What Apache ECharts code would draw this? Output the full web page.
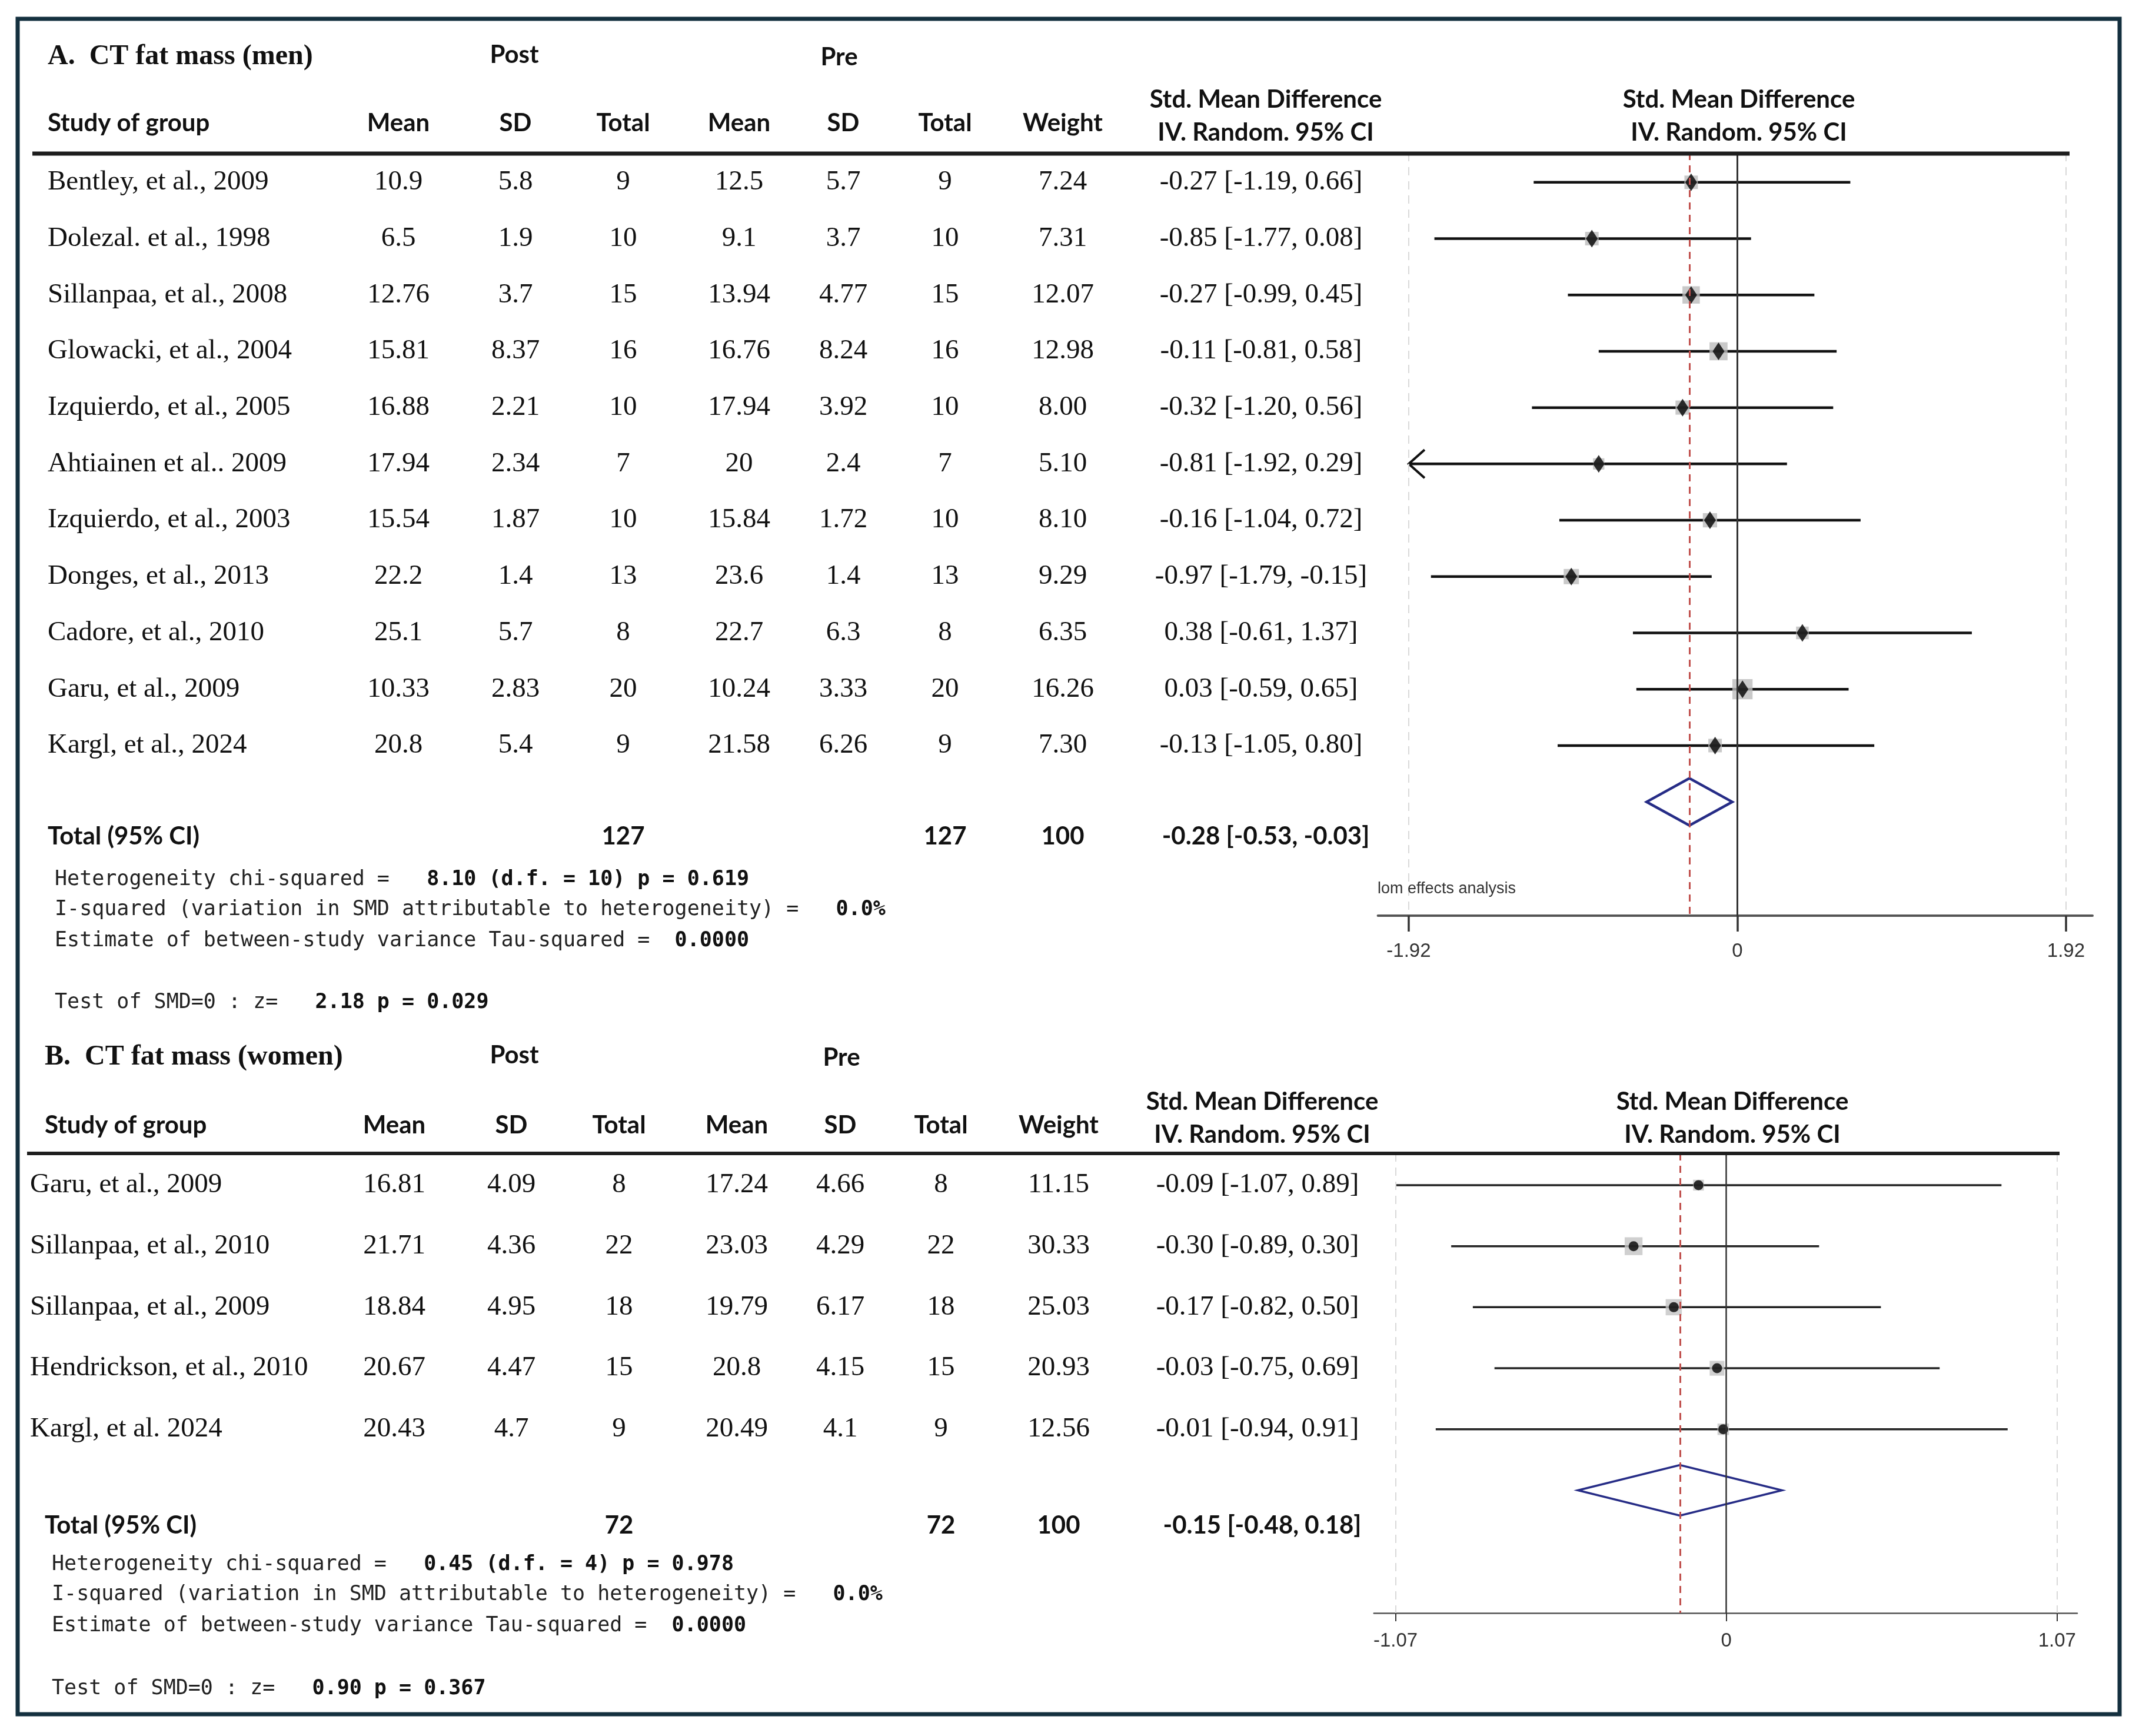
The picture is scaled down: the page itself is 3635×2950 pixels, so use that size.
<!DOCTYPE html>
<html><head><meta charset="utf-8">
<script src="https://cdn.jsdelivr.net/npm/echarts@6/dist/echarts.min.js"></script>
<style>html,body{margin:0;padding:0;background:#fff}#c{width:3635px;height:2950px}</style>
</head><body><div id="c"></div>
<script>
// ---------------- DATA: Panel A (men) ----------------
const studiesA = ["Bentley, et al., 2009","Dolezal. et al., 1998","Sillanpaa, et al., 2008","Glowacki, et al., 2004","Izquierdo, et al., 2005","Ahtiainen et al.. 2009","Izquierdo, et al., 2003","Donges, et al., 2013","Cadore, et al., 2010","Garu, et al., 2009","Kargl, et al., 2024"];
const postMeanA = [10.9, 6.5, 12.76, 15.81, 16.88, 17.94, 15.54, 22.2, 25.1, 10.33, 20.8];
const postSDA   = [5.8, 1.9, 3.7, 8.37, 2.21, 2.34, 1.87, 1.4, 5.7, 2.83, 5.4];
const postNA    = [9, 10, 15, 16, 10, 7, 10, 13, 8, 20, 9];
const preMeanA  = [12.5, 9.1, 13.94, 16.76, 17.94, 20, 15.84, 23.6, 22.7, 10.24, 21.58];
const preSDA    = [5.7, 3.7, 4.77, 8.24, 3.92, 2.4, 1.72, 1.4, 6.3, 3.33, 6.26];
const preNA     = [9, 10, 15, 16, 10, 7, 10, 13, 8, 20, 9];
const weightA   = [7.24, 7.31, 12.07, 12.98, 8.00, 5.10, 8.10, 9.29, 6.35, 16.26, 7.30];
const smdA      = [-0.27, -0.85, -0.27, -0.11, -0.32, -0.81, -0.16, -0.97, 0.38, 0.03, -0.13];
const lowA      = [-1.19, -1.77, -0.99, -0.81, -1.20, -1.92, -1.04, -1.79, -0.61, -0.59, -1.05];
const highA     = [0.66, 0.08, 0.45, 0.58, 0.56, 0.29, 0.72, -0.15, 1.37, 0.65, 0.80];
const totalNA   = [127, 127];
const totalWA   = 100;
const overallA  = [-0.28, -0.53, -0.03];
const ticksA    = [-1.92, 0, 1.92];
const statsA = [
  ["Heterogeneity chi-squared =   ", "8.10 (d.f. = 10) p = 0.619"],
  ["I-squared (variation in SMD attributable to heterogeneity) =   ", "0.0%"],
  ["Estimate of between-study variance Tau-squared =  ", "0.0000"],
  ["Test of SMD=0 : z=   ", "2.18 p = 0.029"]
];

// ---------------- DATA: Panel B (women) ----------------
const studiesB = ["Garu, et al., 2009","Sillanpaa, et al., 2010","Sillanpaa, et al., 2009","Hendrickson, et al., 2010","Kargl, et al. 2024"];
const postMeanB = [16.81, 21.71, 18.84, 20.67, 20.43];
const postSDB   = [4.09, 4.36, 4.95, 4.47, 4.7];
const postNB    = [8, 22, 18, 15, 9];
const preMeanB  = [17.24, 23.03, 19.79, 20.8, 20.49];
const preSDB    = [4.66, 4.29, 6.17, 4.15, 4.1];
const preNB     = [8, 22, 18, 15, 9];
const weightB   = [11.15, 30.33, 25.03, 20.93, 12.56];
const smdB      = [-0.09, -0.30, -0.17, -0.03, -0.01];
const lowB      = [-1.07, -0.89, -0.82, -0.75, -0.94];
const highB     = [0.89, 0.30, 0.50, 0.69, 0.91];
const totalNB   = [72, 72];
const totalWB   = 100;
const overallB  = [-0.15, -0.48, 0.18];
const ticksB    = [-1.07, 0, 1.07];
const statsB = [
  ["Heterogeneity chi-squared =   ", "0.45 (d.f. = 4) p = 0.978"],
  ["I-squared (variation in SMD attributable to heterogeneity) =   ", "0.0%"],
  ["Estimate of between-study variance Tau-squared =  ", "0.0000"],
  ["Test of SMD=0 : z=   ", "0.90 p = 0.367"]
];

const colHeads = ["Mean","SD","Total","Mean","SD","Total","Weight"];

// ---------------- CHART ----------------
const chart = echarts.init(document.getElementById('c'));
const f2 = v => v.toFixed(2);
const ciText = (e,l,h) => f2(e) + " [" + f2(l) + ", " + f2(h) + "]";

function ciRender(lw, color, arrowAt) {
  return function (params, api) {
    const y = api.value(2);
    const a = api.coord([api.value(0), y]);
    const b = api.coord([api.value(1), y]);
    const ch = [{type:'line', shape:{x1:a[0], y1:a[1], x2:b[0], y2:b[1]}, style:{stroke:color, lineWidth:lw}}];
    if (arrowAt !== null && api.value(0) <= arrowAt + 1e-9) {
      ch.push({type:'polyline', shape:{points:[[a[0]+27, a[1]-24],[a[0], a[1]],[a[0]+27, a[1]+24]]},
               style:{stroke:color, lineWidth:lw-0.5, fill:null}});
    }
    return {type:'group', children:ch};
  };
}
function diamondRender(h, lw) {
  return function (params, api) {
    const yv = api.value(3);
    const c = api.coord([api.value(0), yv]);
    const l = api.coord([api.value(1), yv]);
    const r = api.coord([api.value(2), yv]);
    return {type:'polygon', shape:{points:[[l[0], c[1]],[c[0], c[1]-h],[r[0], c[1]],[c[0], c[1]+h]]},
            style:{stroke:'#262c86', lineWidth:lw, fill:null}};
  };
}
function refLines(ticks, overall, zw) {
  return {
    silent:true, symbol:['none','none'], label:{show:false}, animation:false,
    data:[
      {xAxis: ticks[0], lineStyle:{color:'#d9d9d9', type:[14,10], width:2}},
      {xAxis: ticks[2], lineStyle:{color:'#d9d9d9', type:[14,10], width:2}},
      {xAxis: ticks[1], lineStyle:{color:'#333', type:'solid', width:zw}},
      {xAxis: overall[0], lineStyle:{color:'#c0504d', type:[12,9], width:3}}
    ]
  };
}
function xAx(gi, mn, mx, ticks, lw, tl, margin) {
  return {
    gridIndex:gi, type:'value', min:mn, max:mx,
    axisLine:{show:true, onZero:false, lineStyle:{color:'#555', width:lw}},
    axisTick:{show:true, customValues:ticks, length:tl, lineStyle:{color:'#333', width:lw-0.5}},
    axisLabel:{show:true, customValues:ticks, margin:margin, fontSize:33, color:'#333',
               fontFamily:'Liberation Sans', formatter:v => (v === 0 ? '0' : v.toFixed(2))},
    splitLine:{show:false}
  };
}

const option = {
  animation:false,
  backgroundColor:'#fff',
  grid:[
    {left:2341.6, top:260, width:3556-2341.6, height:1556-260},
    {left:2334.8, top:1960, width:3530-2334.8, height:2741-1960}
  ],
  xAxis:[
    xAx(0, -2.1, 2.075, ticksA, 4, 27, 44),
    xAx(1, -1.14, 1.135, ticksB, 2.5, 14, 31)
  ],
  yAxis:[
    {gridIndex:0, type:'value', inverse:true, min:-0.52, max:13.02, show:false},
    {gridIndex:1, type:'value', inverse:true, min:-0.52, max:7.01, show:false}
  ],
  series:[
    {type:'custom', xAxisIndex:0, yAxisIndex:0, silent:true, clip:false, z:2,
     renderItem:ciRender(4.5, '#111', ticksA[0]), encode:{x:[0,1], y:2},
     data:studiesA.map((s,i)=>[lowA[i], highA[i], i]),
     markLine:refLines(ticksA, overallA, 3)},
    {type:'scatter', xAxisIndex:0, yAxisIndex:0, silent:true, z:3, symbol:'rect',
     symbolSize:v => 8.5*Math.sqrt(v[2]), itemStyle:{color:'#bcbcbc'},
     data:studiesA.map((s,i)=>[smdA[i], i, weightA[i]])},
    {type:'scatter', xAxisIndex:0, yAxisIndex:0, silent:true, z:4, symbol:'diamond',
     symbolSize:[20,30], itemStyle:{color:'#000'},
     data:studiesA.map((s,i)=>[smdA[i], i])},
    {type:'custom', xAxisIndex:0, yAxisIndex:0, silent:true, clip:false, z:4,
     renderItem:diamondRender(40, 4.5), encode:{x:[0,1,2], y:3},
     data:[[overallA[0], overallA[1], overallA[2], studiesA.length]]},

    {type:'custom', xAxisIndex:1, yAxisIndex:1, silent:true, clip:false, z:2,
     renderItem:ciRender(3.5, '#222', null), encode:{x:[0,1], y:2},
     data:studiesB.map((s,i)=>[lowB[i], highB[i], i]),
     markLine:refLines(ticksB, overallB, 2.5)},
    {type:'scatter', xAxisIndex:1, yAxisIndex:1, silent:true, z:3, symbol:'rect',
     symbolSize:v => 5.5*Math.sqrt(v[2]), itemStyle:{color:'#c4c4c4'},
     data:studiesB.map((s,i)=>[smdB[i], i, weightB[i]])},
    {type:'scatter', xAxisIndex:1, yAxisIndex:1, silent:true, z:4, symbol:'circle',
     symbolSize:17, itemStyle:{color:'#000'},
     data:studiesB.map((s,i)=>[smdB[i], i])},
    {type:'custom', xAxisIndex:1, yAxisIndex:1, silent:true, clip:false, z:4,
     renderItem:diamondRender(43, 3.5), encode:{x:[0,1,2], y:3},
     data:[[overallB[0], overallB[1], overallB[2], studiesB.length]]}
  ]
};
chart.setOption(option);

// ---------------- TABLE TEXT (graphic) ----------------
const SERIF = '"Liberation Serif", "Times New Roman", serif';
const SANS = 'Lato, "Open Sans", sans-serif';
const MONO = '"DejaVu Sans Mono", "Liberation Mono", monospace';
const g = [];
function txt(x, y, text, opt) {
  g.push({type:'text', x:x, y:y, silent:true, z:10, style:Object.assign({
    text:text, fill:'#111', align:'left', verticalAlign:'middle',
    fontFamily:SERIF, fontSize:47, fontWeight:'normal'}, opt || {})});
}
function line(x1, y1, x2, y2, w, c) {
  g.push({type:'line', silent:true, z:9, shape:{x1, y1, x2, y2}, style:{stroke:c, lineWidth:w}});
}
const hd = {fontFamily:SANS, fontSize:42, fontWeight:'bold', fill:'#111'};

function panel(P) {
  const rowY = i => chart.convertToPixel({yAxisIndex:P.yi}, i);
  txt(P.titleX, P.titleY, P.title, {fontFamily:SERIF, fontWeight:'bold', fontSize:48});
  txt(P.postX, P.titleY - 4, "Post", Object.assign({align:'center'}, hd));
  txt(P.preX, P.titleY, "Pre", Object.assign({align:'center'}, hd));
  txt(P.titleX, P.headY, "Study of group", hd);
  colHeads.forEach((h, k) => txt(P.cols[k], P.headY, h, Object.assign({align:'center'}, hd)));
  txt(P.ciX, P.headY - 40, "Std. Mean Difference", Object.assign({align:'center'}, hd));
  txt(P.ciX, P.headY + 16, "IV. Random. 95% CI", Object.assign({align:'center'}, hd));
  txt(P.plotHX, P.headY - 40, "Std. Mean Difference", Object.assign({align:'center'}, hd));
  txt(P.plotHX, P.headY + 16, "IV. Random. 95% CI", Object.assign({align:'center'}, hd));
  line(P.lineX1, P.lineY, P.lineX2, P.lineY, P.lineW, '#1e1e1e');
  P.studies.forEach((s, i) => {
    const y = rowY(i);
    txt(P.nameX, y, s);
    const vals = [String(P.pm[i]), String(P.ps[i]), String(P.pn[i]), String(P.rm[i]), String(P.rs[i]), String(P.rn[i]), f2(P.w[i])];
    vals.forEach((v, k) => txt(P.cols[k], y, v, {align:'center'}));
    txt(P.ciX - 8, y, ciText(P.smd[i], P.lo[i], P.hi[i]), {align:'center'});
  });
  txt(P.titleX, P.totY, "Total (95% CI)", hd);
  txt(P.cols[2], P.totY, String(P.tn[0]), Object.assign({align:'center'}, hd));
  txt(P.cols[5], P.totY, String(P.tn[1]), Object.assign({align:'center'}, hd));
  txt(P.cols[6], P.totY, String(P.tw), Object.assign({align:'center'}, hd));
  txt(P.ciX, P.totY, ciText(P.ov[0], P.ov[1], P.ov[2]), Object.assign({align:'center'}, hd));
  P.stats.forEach((st, k) => {
    g.push({type:'text', x:P.statX, y:P.statY[k], silent:true, z:10, style:{
      text:'{a|' + st[0] + '}{b|' + st[1] + '}', align:'left', verticalAlign:'middle',
      rich:{a:{fontFamily:MONO, fontSize:35, fill:'#222', fontWeight:'normal'},
            b:{fontFamily:MONO, fontSize:35, fill:'#111', fontWeight:'bold'}}}});
  });
}

panel({yi:0, title:"A.  CT fat mass (men)", titleX:81, titleY:97, postX:874, preX:1426,
  headY:209, cols:[677, 876, 1059, 1256, 1433, 1606, 1806], ciX:2151, plotHX:2955,
  lineX1:55, lineX2:3517, lineY:261, lineW:7, nameX:81,
  studies:studiesA, pm:postMeanA, ps:postSDA, pn:postNA, rm:preMeanA, rs:preSDA, rn:preNA, w:weightA,
  smd:smdA, lo:lowA, hi:highA, totY:1421, tn:totalNA, tw:totalWA, ov:overallA,
  stats:statsA, statX:93, statY:[1495, 1546, 1599, 1704]});

panel({yi:1, title:"B.  CT fat mass (women)", titleX:76, titleY:1797, postX:874, preX:1430,
  headY:1912, cols:[670, 869, 1052, 1252, 1428, 1599, 1799], ciX:2145, plotHX:2944,
  lineX1:46, lineX2:3500, lineY:1960, lineW:6, nameX:51,
  studies:studiesB, pm:postMeanB, ps:postSDB, pn:postNB, rm:preMeanB, rs:preSDB, rn:preNB, w:weightB,
  smd:smdB, lo:lowB, hi:highB, totY:2592, tn:totalNB, tw:totalWB, ov:overallB,
  stats:statsB, statX:88, statY:[2659, 2710, 2763, 2870]});

// cropped caption remnant in panel A plot
txt(2341, 1511, "lom effects analysis", {fontFamily:'"Liberation Sans", Arial, sans-serif', fontSize:27, fill:'#333'});

// outer frame
g.push({type:'rect', silent:true, z:11, shape:{x:30, y:32, width:3572, height:2881},
        style:{fill:null, stroke:'#14303f', lineWidth:7}});

chart.setOption({graphic:g});
</script>
</body></html>
